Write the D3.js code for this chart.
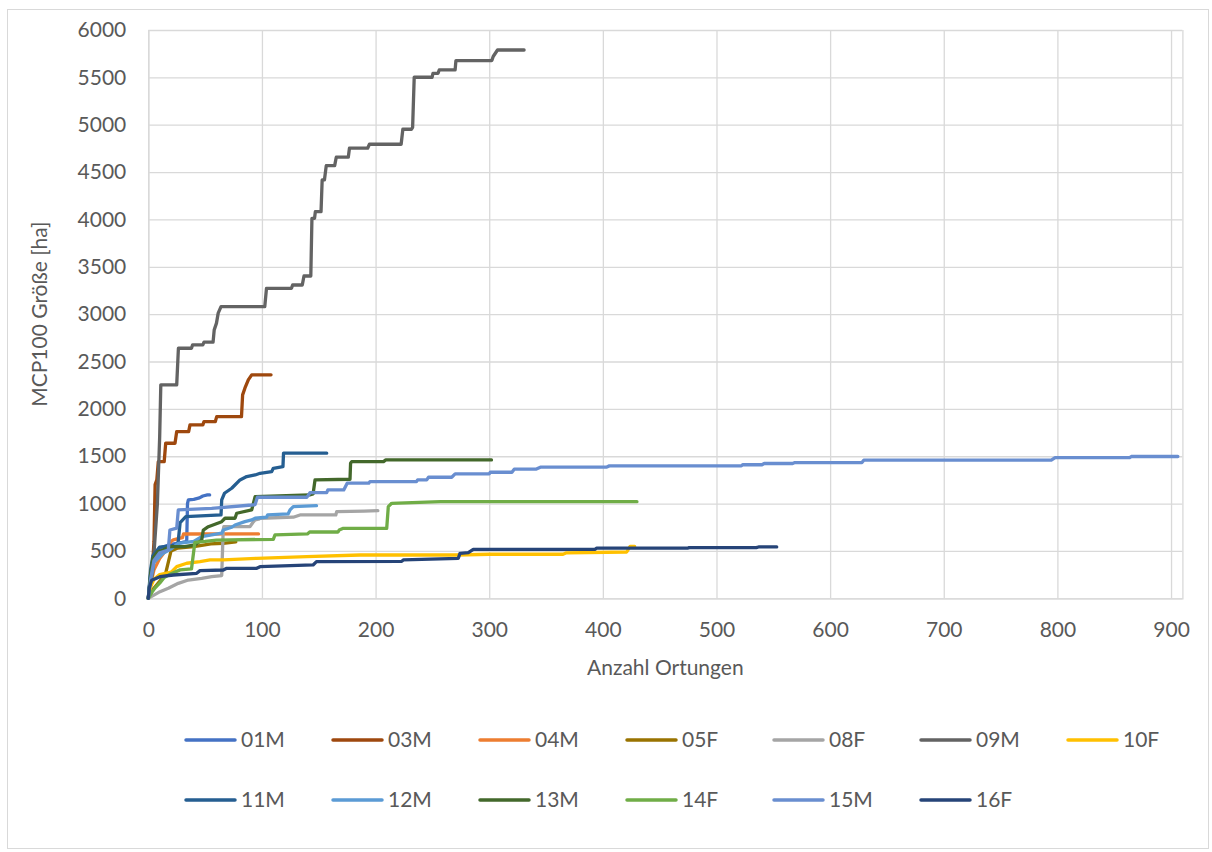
<!DOCTYPE html>
<html>
<head>
<meta charset="utf-8">
<script src="https://cdn.jsdelivr.net/npm/d3@7"></script>
<style>
  body { margin: 0; background: #fff; }
  text { font-family: Lato, "Liberation Sans", sans-serif; fill: #595959; }
</style>
</head>
<body>
<svg id="chart" width="1212" height="852"></svg>
<script>
// series: [Anzahl Ortungen, MCP100 Größe (ha)]
const s01M = [[0,0],[2,250],[5,450],[10,530],[20,570],[30,590],[33.8,600],[34.5,1000],[35.2,1038],[40,1045],[45,1060],[48,1080],[52,1091],[54,1091]];
const s03M = [[0,0],[3,200],[5,600],[6,1200],[7.5,1250],[8.8,1443],[14,1443],[15.3,1637],[23.5,1637],[25,1760],[35.5,1760],[36.7,1831],[48,1831],[49,1866],[59,1866],[60.2,1918],[82,1918],[83,2148],[85,2218],[88,2306],[91,2359],[108,2359]];
const s04M = [[0,0],[2,150],[5,300],[10,420],[15,500],[20,600],[22,616],[30,640],[31,679],[97,680]];
const s05F = [[0,0],[3,80],[8,150],[15,250],[18,400],[20,500],[26,530],[40,545],[47,560],[55,575],[66,581],[77,595]];
const s08F = [[0,0],[3,20],[10.3,70],[17.6,106],[26.4,158],[35.2,193],[47,210],[55.8,228],[64.6,240],[65.9,721],[66.5,756],[89.5,756],[92,800],[94,827],[97,835],[98.4,845],[127.6,856],[133.5,880],[165,880],[165.8,915],[190,920],[202,925]];
const s09M = [[0,0],[4,300],[8,1000],[10,1700],[11,2253],[25,2253],[26.5,2640],[38,2640],[39,2676],[48,2676],[49,2704],[57,2704],[58,2834],[60,2905],[61.5,3011],[64,3079],[102.5,3079],[104,3273],[126,3273],[127,3308],[135.5,3308],[137,3403],[143,3403],[144,4012],[146.3,4012],[147,4083],[152,4083],[153,4417],[155,4417],[156.6,4568],[164,4568],[165.4,4657],[176,4657],[177,4752],[193,4752],[194.6,4794],[222.5,4794],[224,4952],[231.5,4952],[232.6,4973],[234,5501],[249.7,5501],[250.5,5543],[255,5543],[256,5578],[270,5578],[270.7,5677],[302.3,5677],[303.5,5720],[307.3,5789],[330.7,5789]];
const s10F = [[0,0],[2,120],[5,200],[10,250],[18,270],[20.6,281],[25,334],[33.8,370],[45.5,387],[54.3,405],[66,405],[95.4,422],[139.4,440],[186.3,457],[271,457],[300,465],[365,465],[368,480],[421,489],[424,549],[428,549]];
const s11M = [[0,0],[2,300],[4,450],[10,540],[26,560],[28,800],[33,862],[64,880],[64.6,1038],[67,1109],[73.4,1162],[80.7,1250],[86.6,1285],[94,1302],[98.4,1320],[108.6,1337],[110,1373],[118.5,1390],[119,1532],[157,1532]];
const s12M = [[0,0],[2,200],[5,380],[13,475],[20,520],[26.4,581],[40,600],[47,651],[55.8,669],[64.6,687],[66,721],[73.4,750],[76.3,774],[85,809],[91,827],[94,845],[104,856],[105,880],[123,891],[124.7,933],[127.6,968],[148,978]];
const s13M = [[0,0],[2,250],[4,420],[8,490],[13,510],[19,545],[32,545],[41,563],[47,616],[48.4,721],[52.8,756],[64.6,809],[67.5,845],[76.3,845],[77.8,898],[91,933],[94,1073],[142,1091],[145,1102],[146.7,1250],[177.5,1257],[178,1426],[179,1443],[207,1443],[209,1461],[302,1461]];
const s14F = [[0,0],[3,60],[6,110],[10,160],[14,220],[20,260],[28,300],[38,310],[40,500],[41,590],[50,600],[60,615],[110,623],[111.5,669],[140,680],[142,700],[167,700],[168,721],[171.6,739],[209.8,739],[211.2,968],[214.2,1003],[220,1005],[257,1020],[430,1020]];
const s15M = [[0,0],[2,200],[5,400],[10,480],[17.6,510],[19,721],[25,740],[26.4,933],[55.8,950],[91,985],[94,990],[96,1067],[139.5,1067],[141,1090],[142.3,1116],[157,1116],[158,1144],[172,1144],[175,1215],[194,1215],[195,1232],[236,1232],[237,1250],[245,1250],[246.6,1278],[267,1278],[270,1313],[300,1313],[301,1331],[320,1331],[322,1363],[341,1363],[345,1384],[403,1384],[405.7,1398],[521.9,1398],[523,1410],[540,1410],[542,1423],[567,1423],[569,1433],[628,1433],[629.6,1458],[794.6,1458],[798,1486],[863.6,1486],[865,1497],[906,1497]];
const s16F = [[0,0],[1,120],[3,190],[10.3,228],[22,246],[42.6,264],[45.5,292],[66,299],[69,317],[95.4,317],[98.3,334],[145,352],[148,387],[223,390],[224.4,405],[272.8,422],[274.3,475],[281.6,482],[286,517],[393,517],[394.6,530],[475,530],[476,535],[535,535],[537,542],[553,542]];

const seriesNames = ["01M", "03M", "04M", "05F", "08F", "09M", "10F", "11M", "12M", "13M", "14F", "15M", "16F"];
const seriesData = [s01M, s03M, s04M, s05F, s08F, s09M, s10F, s11M, s12M, s13M, s14F, s15M, s16F];
const seriesColors = ["#4472C4", "#9E480E", "#ED7D31", "#997300", "#A5A5A5", "#636363", "#FFC000",
                      "#255E91", "#5B9BD5", "#43682B", "#70AD47", "#698ED0", "#264478"];

const xTicks = [0, 100, 200, 300, 400, 500, 600, 700, 800, 900];
const yTicks = [0, 500, 1000, 1500, 2000, 2500, 3000, 3500, 4000, 4500, 5000, 5500, 6000];
const xTitle = "Anzahl Ortungen";
const yTitle = "MCP100 Größe [ha]";

const svg = d3.select("#chart");
const plot = { left: 148.3, right: 1182.4, top: 30, bottom: 598.3 };

const x = d3.scaleLinear().domain([0, 910]).range([plot.left, plot.right]);
const y = d3.scaleLinear().domain([0, 6000]).range([plot.bottom, plot.top]);

// chart border
svg.append("rect")
    .attr("x", 7.5).attr("y", 9.5)
    .attr("width", 1201).attr("height", 839)
    .attr("fill", "none")
    .attr("stroke", "#d9d9d9");

// y grid + labels
const yAxis = svg.append("g")
    .attr("transform", `translate(${plot.left},0)`)
    .call(d3.axisLeft(y).tickValues(yTicks).tickSize(-(plot.right - plot.left)).tickPadding(22).tickFormat(d3.format("d")));
yAxis.select(".domain").remove();
yAxis.selectAll(".tick line").attr("stroke", "#d9d9d9").attr("stroke-width", 1.3);
yAxis.selectAll(".tick text").attr("font-size", 21).attr("fill", "#595959");

// x grid + labels
const xAxis = svg.append("g")
    .attr("transform", `translate(0,${plot.bottom})`)
    .call(d3.axisBottom(x).tickValues(xTicks).tickSize(-(plot.bottom - plot.top)).tickPadding(0).tickFormat(d3.format("d")));
xAxis.select(".domain").attr("stroke", "#d9d9d9").attr("stroke-width", 1.3);
xAxis.selectAll(".tick line").attr("stroke", "#d9d9d9").attr("stroke-width", 1.3);
xAxis.selectAll(".tick text").attr("font-size", 21).attr("fill", "#595959")
    .attr("y", 24).attr("dy", "0.71em");

// lines
const line = d3.line().x(d => x(d[0])).y(d => y(d[1]));
svg.append("g")
  .selectAll("path")
  .data(seriesData)
  .enter().append("path")
    .attr("d", line)
    .attr("fill", "none")
    .attr("stroke", (d, i) => seriesColors[i])
    .attr("stroke-width", 3.3)
    .attr("stroke-linejoin", "round")
    .attr("stroke-linecap", "round");

// axis titles
svg.append("text")
    .attr("x", (plot.left + plot.right) / 2)
    .attr("y", 668)
    .attr("dy", "0.35em")
    .attr("text-anchor", "middle")
    .attr("font-size", 21)
    .text(xTitle);

svg.append("text")
    .attr("transform", `translate(40,${(plot.top + plot.bottom) / 2}) rotate(-90)`)
    .attr("dy", "0.35em")
    .attr("text-anchor", "middle")
    .attr("font-size", 21)
    .text(yTitle);

// legend: 7 items in first row, rest in second
const legend = svg.append("g");
seriesNames.forEach((name, i) => {
    const row = i < 7 ? 0 : 1;
    const col = i < 7 ? i : i - 7;
    const g = legend.append("g")
        .attr("transform", `translate(${186 + col * 147},${740 + row * 60})`);
    g.append("line")
        .attr("x1", 0).attr("x2", 49)
        .attr("stroke", seriesColors[i])
        .attr("stroke-width", 3.5)
        .attr("stroke-linecap", "round");
    g.append("text")
        .attr("x", 55)
        .attr("dy", "0.35em")
        .attr("font-size", 21)
        .text(name);
});
</script>
</body>
</html>
